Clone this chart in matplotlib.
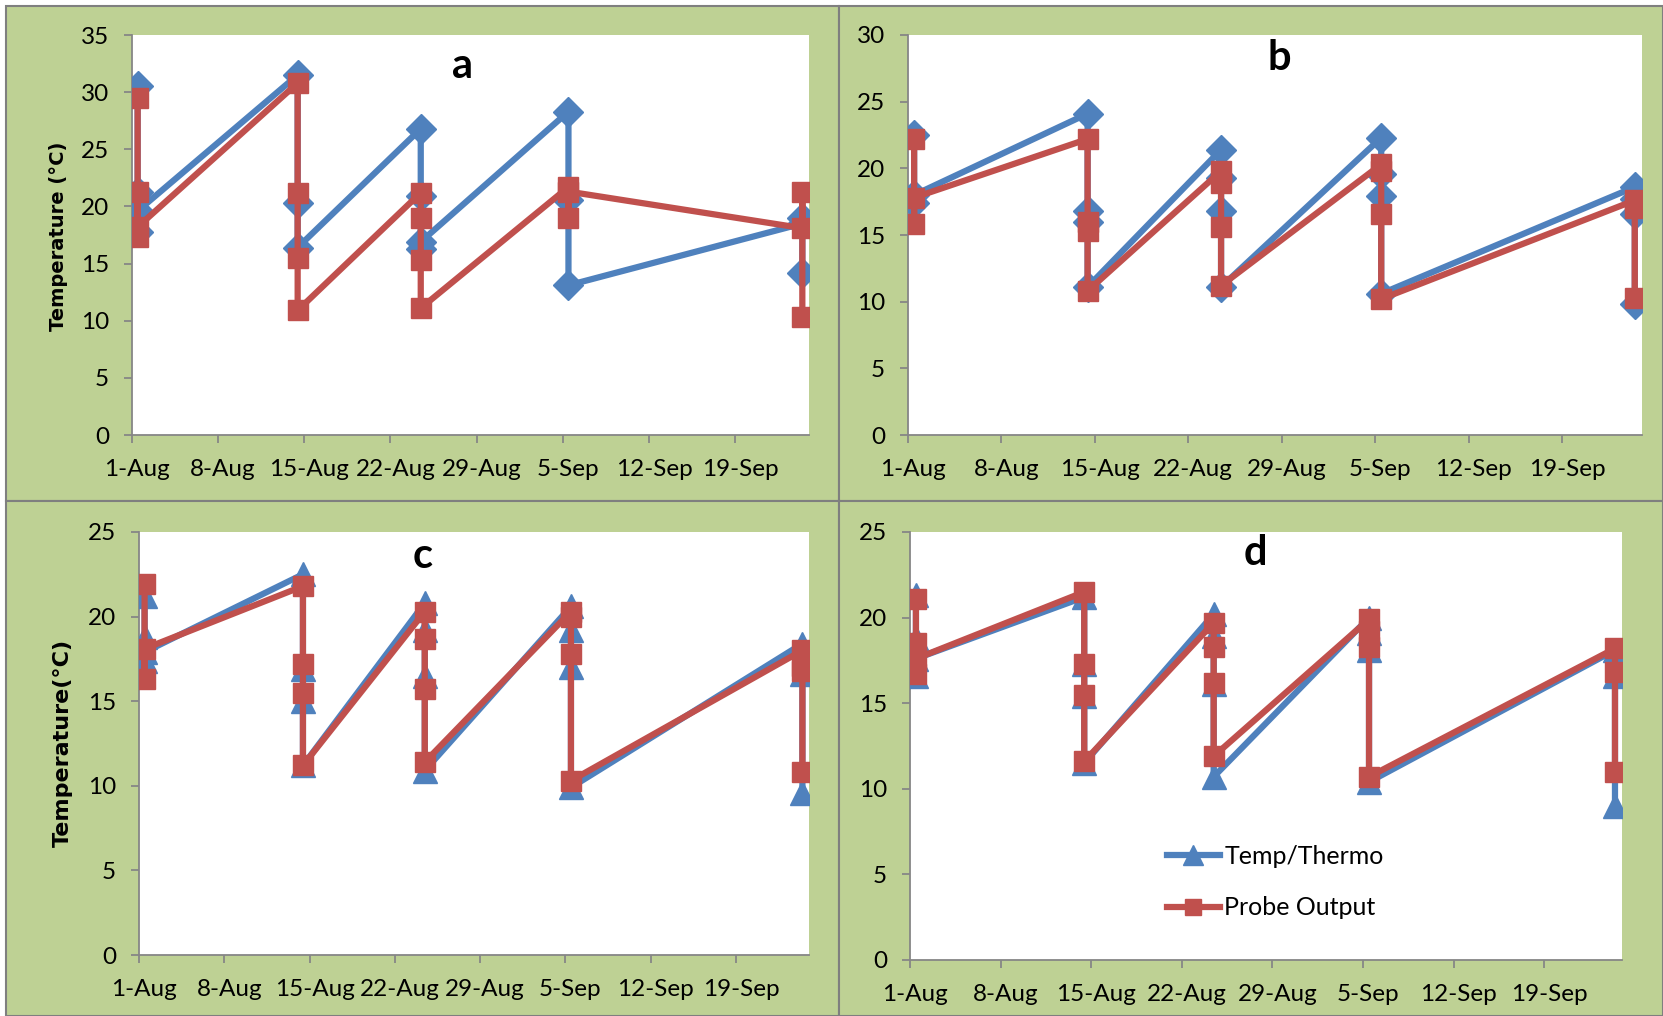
#!/usr/bin/env python3
# probe_vs_thermometer.py

import pandas as pd
import matplotlib
matplotlib.use("Agg")
import matplotlib.pyplot as plt
import matplotlib.transforms as mtransforms
from matplotlib.patches import Rectangle
from matplotlib.ticker import MultipleLocator

plt.rcParams["font.family"] = ["Lato", "DejaVu Sans"]

# Sampling days; several readings were logged on each of them
sample_dates = ["2013-08-01", "2013-08-14", "2013-08-24", "2013-09-05", "2013-09-24"]
axis_start = "2013-08-01"
axis_end = "2013-09-25"
tick_dates = pd.date_range("2013-08-01", "2013-09-19", freq="7D")

# Readings per sampling day, in logging order (degrees C)
thermo_a = [[30.5, 17.8, 21.3, 19.6], [31.5, 20.3, 16.4], [26.8, 20.9, 16.3, 16.9],
            [28.3, 20.6, 13.1], [18.5, 19.0, 14.2]]
probe_a = [[29.5, 17.3, 21.3, 18.2], [30.8, 21.2, 15.5, 10.9], [21.2, 19.0, 15.3, 11.1],
           [21.7, 19.0, 21.3], [18.1, 21.3, 10.3]]

thermo_b = [[22.5, 17.4, 18.0], [24.1, 16.8, 16.0, 11.1], [21.4, 19.3, 16.8, 11.1],
            [22.3, 19.6, 17.9, 10.6], [18.6, 17.7, 16.6, 9.8]]
probe_b = [[22.2, 15.8, 17.8], [22.2, 16.0, 15.3, 10.8], [19.8, 18.9, 15.6, 11.2],
           [20.3, 19.8, 16.6, 10.2], [17.6, 17.0, 10.3]]

thermo_c = [[21.2, 17.4, 18.8, 17.9], [22.5, 16.9, 15.0, 11.2], [20.8, 19.2, 16.5, 10.9],
            [20.6, 19.2, 17.0, 9.9], [18.4, 16.6, 9.6]]
probe_c = [[21.9, 16.3, 18.1], [21.8, 17.2, 15.5, 11.2], [20.3, 18.7, 15.7, 11.4],
           [20.3, 20.0, 17.8, 10.3], [18.0, 17.1, 16.8, 10.8]]

thermo_d = [[21.3, 16.6, 18.8, 17.6], [21.2, 17.3, 15.4, 11.5], [20.2, 18.9, 16.1, 10.7],
            [20.0, 19.1, 18.1, 10.4], [18.1, 16.6, 9.0]]
probe_d = [[21.1, 16.7, 18.5, 17.6], [21.5, 17.3, 15.5, 11.6], [19.7, 18.3, 16.2, 11.9],
            [19.9, 19.2, 18.3, 10.7], [18.2, 16.8, 11.0]]

series_labels = ["Temp/Thermo", "Probe Output"]

BLUE = "#4F81BD"
RED = "#C0504D"
GREEN = "#BED194"
GREY = "#868686"

W, H = 1663, 1016


def fig_box(left, top, right, bottom):
    # pixel box (from top-left) -> figure fraction [x0, y0, w, h]
    return [left / W, 1 - bottom / H, (right - left) / W, (bottom - top) / H]


def expand(groups):
    # Excel date axis puts each day's points in the middle of the day
    x, y = [], []
    for day, vals in zip(sample_dates, groups):
        t = (pd.Timestamp(day) + pd.Timedelta(hours=11)).to_pydatetime()
        x += [t] * len(vals)
        y += vals
    return x, y


def draw_panel(fig, frame, plot, thermo, probe, ymax, marker, letter, letter_xy, ylabel=None):
    fig.patches.append(Rectangle((frame[0] / W, 1 - frame[3] / H),
                                 (frame[2] - frame[0]) / W, (frame[3] - frame[1]) / H,
                                 transform=fig.transFigure, facecolor=GREEN,
                                 edgecolor="#7F7F7F", linewidth=1.5, zorder=-5))
    ax = fig.add_axes(fig_box(*plot))
    ax.set_facecolor("white")

    x, y = expand(thermo)
    ms = 15.5 if marker == "D" else 17
    ax.plot(x, y, color=BLUE, lw=4.5, marker=marker, ms=ms, mec=BLUE,
            label=series_labels[0], zorder=3)
    x, y = expand(probe)
    ax.plot(x, y, color=RED, lw=4.5, marker="s", ms=14, mec=RED,
            label=series_labels[1], zorder=4)

    ax.set_xlim(pd.Timestamp(axis_start), pd.Timestamp(axis_end))
    ax.set_xticks(list(tick_dates))
    ax.set_xticklabels([f"{d.day}-{d:%b}" for d in tick_dates])
    ax.set_ylim(0, ymax)
    ax.yaxis.set_major_locator(MultipleLocator(5))

    for side in ["top", "right"]:
        ax.spines[side].set_visible(False)
    for side in ["left", "bottom"]:
        ax.spines[side].set_color(GREY)
        ax.spines[side].set_linewidth(1.3)
    ax.tick_params(axis="both", colors=GREY, labelcolor="black", length=6,
                   width=1.3, labelsize=17.5)
    ax.tick_params(axis="x", pad=11)
    ax.tick_params(axis="y", pad=10.5)

    # date labels sit a little right of their tick marks
    shift = mtransforms.ScaledTranslation(5 / 100, 0, fig.dpi_scale_trans)
    for lab in ax.get_xticklabels():
        lab.set_transform(lab.get_transform() + shift)

    fig.text(letter_xy[0] / W, 1 - letter_xy[1] / H, letter, fontsize=30,
             fontweight="bold", family="Lato", ha="center", va="center")
    if ylabel is not None:
        text, lx, ly, size = ylabel
        fig.text(lx / W, 1 - ly / H, text, rotation=90, fontsize=size,
                 fontweight="bold", family="DejaVu Sans", ha="center", va="center")
    return ax


def main():
    fig = plt.figure(figsize=(W / 100, H / 100), dpi=100)
    fig.patch.set_facecolor("white")

    draw_panel(fig, (6, 6, 839, 501), (132, 35, 809, 435), thermo_a, probe_a, 35, "D",
               "a", (462, 66), ("Temperature (°C)", 59, 236, 14))
    draw_panel(fig, (839, 6, 1663, 501), (908, 35, 1642, 435), thermo_b, probe_b, 30, "D",
               "b", (1279, 58))
    draw_panel(fig, (6, 501, 839, 1016), (139, 532, 809, 955), thermo_c, probe_c, 25, "^",
               "c", (423, 556), ("Temperature(°C)", 63, 743, 16))
    ax_d = draw_panel(fig, (839, 501, 1663, 1016), (910, 532, 1622, 960), thermo_d, probe_d,
                      25, "^", "d", (1255, 553))

    ax_d.legend(loc="center left", bbox_to_anchor=(1167 / W, 1 - 882 / H),
                bbox_transform=fig.transFigure, frameon=False, fontsize=18,
                handlelength=2.1, handletextpad=0.2, labelspacing=1.15,
                borderpad=0, borderaxespad=0, markerscale=0.85)

    fig.savefig("out.png", dpi=100, facecolor=fig.get_facecolor())


if __name__ == "__main__":
    main()
